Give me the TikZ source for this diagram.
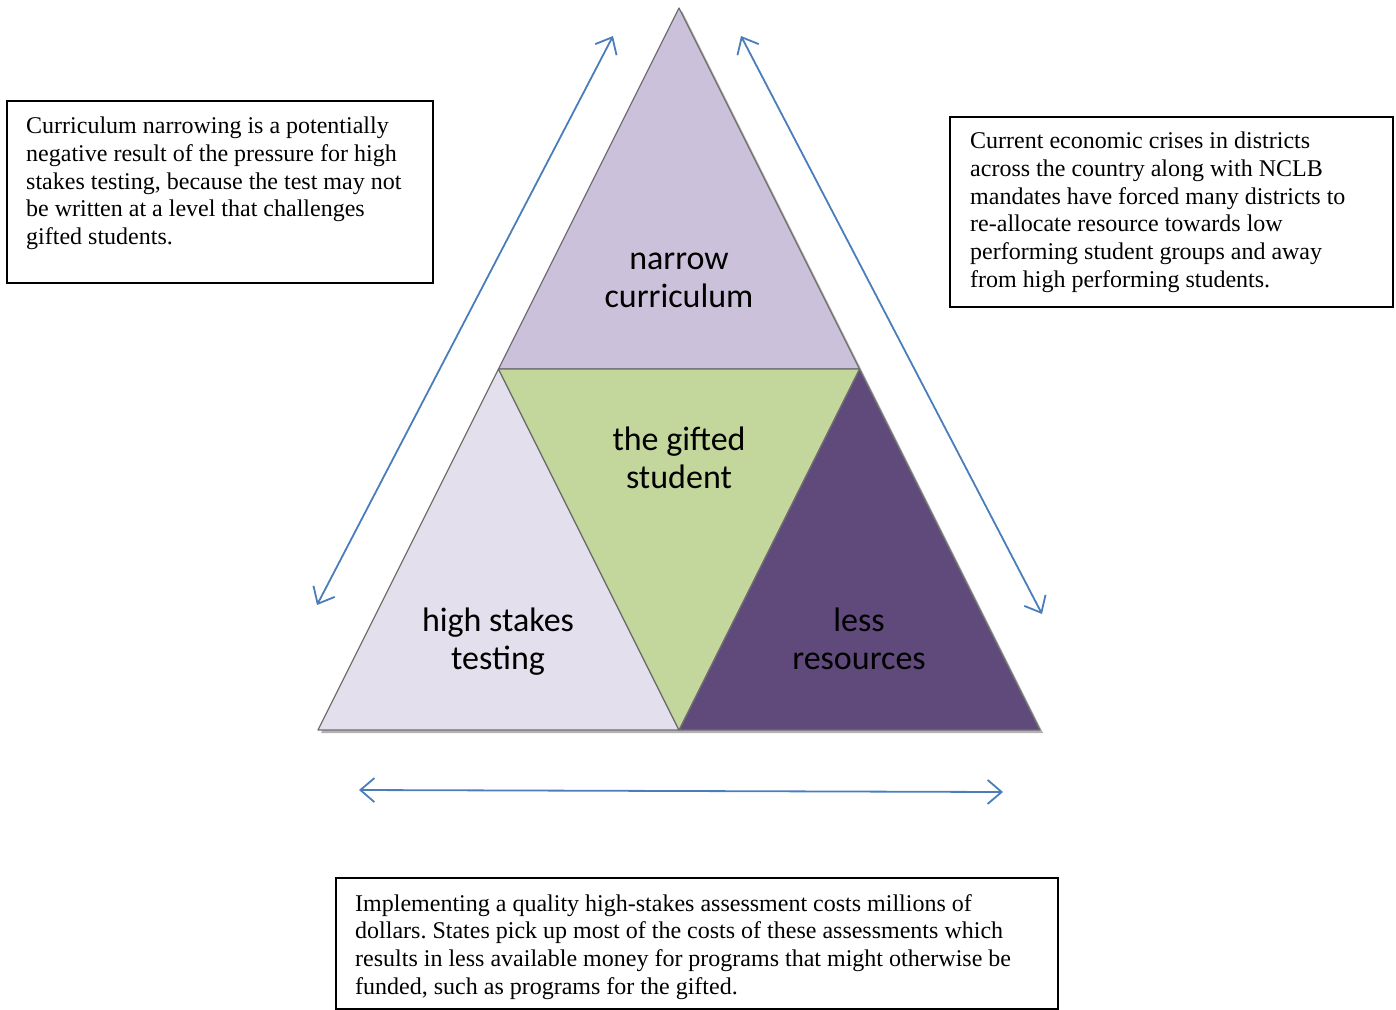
\documentclass[tikz,border=0pt]{standalone}
\usepackage{fontspec}
\setmainfont{Liberation Serif}
\newfontfamily\labelfont{Carlito}
\usetikzlibrary{arrows.meta}
\definecolor{toplilac}{HTML}{CCC1DA}
\definecolor{palelilac}{HTML}{E4DFEC}
\definecolor{sage}{HTML}{C3D69B}
\definecolor{plum}{HTML}{604A7B}
\definecolor{linkblue}{HTML}{4A7EBB}
\definecolor{edgegray}{HTML}{6F6F6F}
\frenchspacing

\begin{document}
\begin{tikzpicture}[x=1pt, y=-1pt,
      tri/.style={draw=edgegray, line width=1.2pt, line join=round},
      lbl/.style={font=\labelfont\fontsize{34}{38}\selectfont, align=center, inner sep=0pt},
      note/.style={draw=black, line width=1.6pt, anchor=north west, inner sep=0pt},
      txt/.style={font=\fontsize{24}{27.7}\selectfont, align=left, anchor=north west, inner sep=0pt},
      arr/.style={{Straight Barb[length=14pt,width=24pt]}-{Straight Barb[length=14pt,width=24pt]}, linkblue, line width=1.8pt}]
    \useasboundingbox (0,0) rectangle (1396,1009);

    % corners of the pyramid
    \coordinate (apex) at (679,8);
    \coordinate (bl) at (318,730);
    \coordinate (br) at (1040,730);
    \coordinate (lm) at (498.5,369);
    \coordinate (rm) at (859.5,369);
    \coordinate (bm) at (679,730);

    % soft shadow under the base
    \fill[black, opacity=0.3] (321,733) -- (1043,733) -- (682,11) -- cycle;

    \filldraw[tri, fill=toplilac] (apex) -- (rm) -- (lm) -- cycle;
    \filldraw[tri, fill=palelilac] (lm) -- (bm) -- (bl) -- cycle;
    \filldraw[tri, fill=plum] (rm) -- (br) -- (bm) -- cycle;
    \filldraw[tri, fill=sage] (lm) -- (rm) -- (bm) -- cycle;

    \node[lbl] (narrow) at (679,280) {narrow\\curriculum};
    \node[lbl] (gifted) at (679,458) {the gifted\\student};
    \node[lbl] (stakes) at (498,642) {high stakes\\testing};
    \node[lbl] (less) at (859,639) {less\\resources};

    % arrows along the three sides
    \coordinate (la1) at (613,36);
    \coordinate (la2) at (317,605);
    \coordinate (ra1) at (741,36);
    \coordinate (ra2) at (1042,614);
    \coordinate (ba1) at (359,790);
    \coordinate (ba2) at (1003,792);
    \draw[arr] (la1) -- (la2);
    \draw[arr] (ra1) -- (ra2);
    \draw[arr] (ba1) -- (ba2);

    % explanatory notes
    \node[note, minimum width=426pt, minimum height=182pt] (lbox) at (6,100) {};
    \node[txt] (ltext) at (26,117) {Curriculum narrowing is a potentially\\
      negative result of the pressure for high\\
      stakes testing, because the test may not\\
      be written at a level that challenges\\
      gifted students.};

    \node[note, minimum width=443pt, minimum height=190pt] (rbox) at (949,116) {};
    \node[txt] (rtext) at (970,132) {Current economic crises in districts\\
      across the country along with NCLB\\
      mandates have forced many districts to\\
      re-allocate resource towards low\\
      performing student groups and away\\
      from high performing students.};

    \node[note, minimum width=722pt, minimum height=131pt] (bbox) at (335,877) {};
    \node[txt] (btext) at (355,894) {Implementing a quality high-stakes assessment costs millions of\\
      dollars. States pick up most of the costs of these assessments which\\
      results in less available money for programs that might otherwise be\\
      funded, such as programs for the gifted.};
  \end{tikzpicture}
\end{document}
